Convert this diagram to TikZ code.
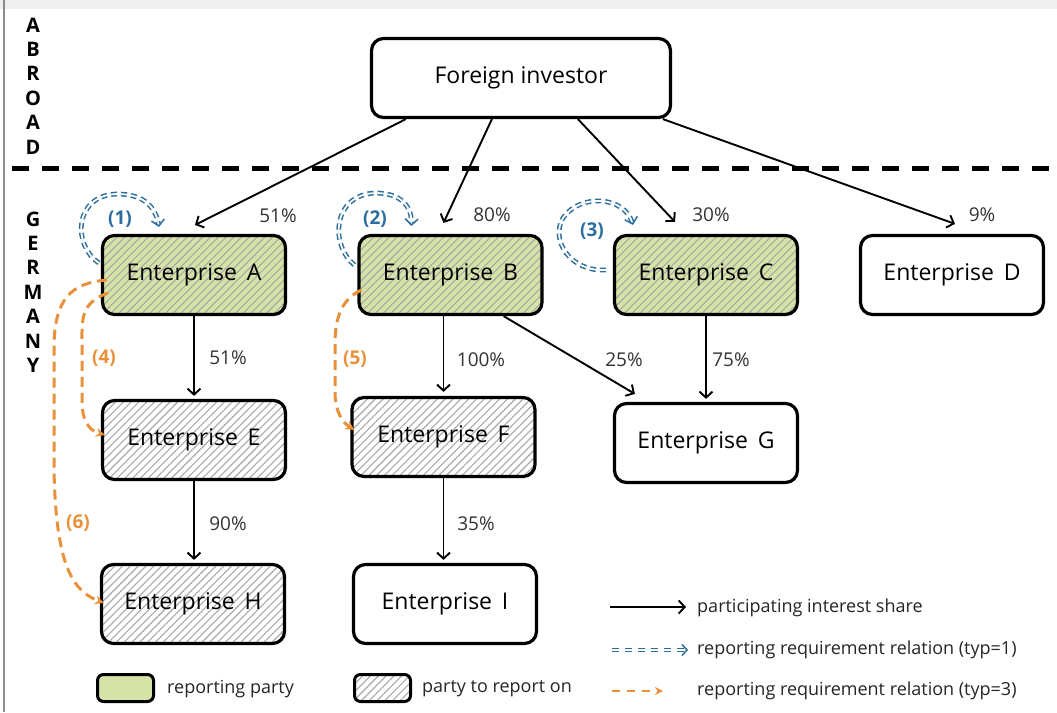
\documentclass[tikz,border=0pt]{standalone}
\usepackage{fontspec}
\setmainfont{Open Sans}
\usetikzlibrary{arrows.meta,patterns.meta,calc}
\definecolor{rgreen}{HTML}{D6E3A6}
\definecolor{rblue}{HTML}{2B6E9E}
\definecolor{rorange}{HTML}{E8913A}
\definecolor{hatchgray}{HTML}{A8A8A8}
\definecolor{bandgray}{HTML}{EFEFEF}
\definecolor{framegray}{HTML}{8C8C8C}
\begin{document}
\begin{tikzpicture}[x=1pt,y=1pt,
  ent/.style={draw=black, line width=3.2pt, rounded corners=12pt, minimum width=183pt, minimum height=79pt, inner sep=0pt, font=\fontsize{23}{26}\selectfont},
  hatchfill/.style={pattern={Lines[angle=45,distance=5.5pt,line width=1.1pt]}, pattern color=hatchgray},
  repbox/.style={ent, hatchfill, preaction={fill=rgreen}},
  hatbox/.style={ent, hatchfill, preaction={fill=white}},
  pct/.style={font=\fontsize{19}{21}\selectfont, text=black!80},
  share/.style={line width=1.9pt, -{Straight Barb[length=6pt,width=13pt,line width=1.9pt]}},
  reqone/.style={draw=rblue, double=white, line width=1.5pt, double distance=1.8pt, dash pattern=on 6pt off 4pt, -{Straight Barb[length=6pt,width=13pt]}},
  reqthree/.style={draw=rorange, line width=3pt, dash pattern=on 10pt off 6pt, -{Stealth[length=9pt,width=9pt]}},
  blab/.style={font=\bfseries\fontsize{19}{21}\selectfont, text=rblue},
  olab/.style={font=\bfseries\fontsize{19}{21}\selectfont, text=rorange},
  side/.style={font=\bfseries\fontsize{20}{24.4}\selectfont, align=center, inner sep=0pt},
  legtext/.style={anchor=west, font=\fontsize{18}{21}\selectfont, text=black!85, inner sep=0pt}
]
\useasboundingbox (0,0) rectangle (1057,-712);
% frame
\fill[white] (0,0) rectangle (1057,-712);
\fill[bandgray] (0,0) rectangle (1057,-9);
\draw[framegray, line width=2pt] (4,0) -- (4,-712);

% side labels
\node[side] (abroad) at (33,-86) {A\\B\\R\\O\\A\\D};
\node[side] (germany) at (33,-292) {G\\E\\R\\M\\A\\N\\Y};

% separator
\coordinate (sepl) at (12,-168);
\coordinate (sepr) at (1057,-168);
\draw[line width=5pt, dash pattern=on 17pt off 13pt] (sepl) -- (sepr);

% nodes
\node[ent, minimum width=299pt] (fi) at (521,-78) {Foreign investor};
\node[repbox] (a) at (194,-275) {Enterprise\, A};
\node[repbox] (b) at (450.5,-275) {Enterprise\, B};
\node[repbox] (c) at (706,-275) {Enterprise\, C};
\node[ent] (d) at (952,-275) {Enterprise\, D};
\node[hatbox] (e) at (194,-440) {Enterprise\, E};
\node[hatbox] (f) at (443.5,-437) {Enterprise\, F};
\node[ent] (g) at (706,-443) {Enterprise\, G};
\node[hatbox] (h) at (193,-604) {Enterprise\, H};
\node[ent] (i) at (445,-604) {Enterprise\, I};

% shares from foreign investor
\draw[share] ($(fi.south west)+(36,0)$) -- ($(a.north)+(1,10)$);
\draw[share] ($(fi.south west)+(122,0)$) -- ($(b.north)+(-7,11)$);
\draw[share] ($(fi.south west)+(208,0)$) -- ($(c.north)+(-31,12)$);
\draw[share] ($(fi.south west)+(293,0)$) -- ($(d.north)+(3,10)$);
\node[pct] (p1) at (278,-216) {51\%};
\node[pct] (p2) at (492,-215) {80\%};
\node[pct] (p3) at (711,-215) {30\%};
\node[pct] (p4) at (982,-215) {9\%};

% domestic shares
\draw[share] (a.south) -- ($(a.south |- e.north)+(0,3)$);
\draw[share] (f.north |- b.south) -- ($(f.north)+(0,4)$);
\draw[share] ($(b.south east)+(-40,0)$) -- ($(g.north west)+(22,8)$);
\draw[share] (c.south) -- ($(g.north)+(0,3)$);
\draw[share] (e.south) -- ($(e.south |- h.north)+(0,3)$);
\draw[share] (f.south) -- ($(f.south |- i.north)+(0,3)$);
\node[pct] (p5) at (228,-358) {51\%};
\node[pct] (p6) at (481,-360) {100\%};
\node[pct] (p7) at (624,-360) {25\%};
\node[pct] (p8) at (731,-360) {75\%};
\node[pct] (p9) at (228,-524) {90\%};
\node[pct] (p10) at (476,-524) {35\%};

% reporting requirement typ=1 (self loops)
\draw[reqone] ($(a.west)+(-3,12)$) .. controls (72,-245) and (74,-195) .. (117,-194)
   .. controls (145,-194) and (156,-208) .. ($(a.north west)+(57,8)$);
\draw[reqone] ($(b.west)+(-3,10)$) .. controls (330,-245) and (332,-195) .. (375,-193)
   .. controls (402,-193) and (412,-207) .. ($(b.north west)+(54,8)$);
\draw[reqone] ($(c.west)+(-7,5)$) .. controls (570,-272) and (550,-240) .. (563,-218)
   .. controls (580,-193) and (625,-196) .. ($(c.north west)+(20,9)$);
\node[blab] (l1) at (120,-219) {(1)};
\node[blab] (l2) at (375,-219) {(2)};
\node[blab] (l3) at (592,-231) {(3)};

% reporting requirement typ=3
\draw[reqthree] ($(a.west)+(6,-18)$) .. controls (80,-303) and (82,-320) .. (82,-345)
   -- (82,-400) .. controls (82,-420) and (88,-430) .. ($(e.west)+(4,5)$);
\draw[reqthree] ($(a.west)+(5,-5)$) .. controls (70,-283) and (55,-300) .. (54,-345)
   -- (54,-470) .. controls (56,-560) and (70,-590) .. ($(h.west)+(4,1)$);
\draw[reqthree] ($(b.west)+(4,-15)$) .. controls (340,-300) and (335,-320) .. (335,-345)
   -- (335,-395) .. controls (336,-412) and (342,-422) .. ($(f.west)+(4,7)$);
\node[olab] (l4) at (104,-358) {(4)};
\node[olab] (l5) at (355,-359) {(5)};
\node[olab] (l6) at (78,-523) {(6)};

% legend
\coordinate (lga) at (610,-607);
\coordinate (lgb) at (686,-607);
\coordinate (lgc) at (612,-650);
\coordinate (lgd) at (688,-650);
\coordinate (lge) at (612,-691);
\coordinate (lgf) at (663,-691);
\draw[share] (lga) -- (lgb);
\draw[reqone, dash pattern=on 7pt off 6pt, -{Straight Barb[length=5pt,width=11pt]}] (lgc) -- (lgd);
\draw[reqthree, line width=2.6pt, dash pattern=on 8pt off 7pt, -{Stealth[length=8pt,width=8pt]}] (lge) -- (lgf);
\node[legtext] (t1) at (697,-608) {participating interest share};
\node[legtext] (t2) at (697,-650) {reporting requirement relation (typ=1)};
\node[legtext] (t3) at (697,-691) {reporting requirement relation (typ=3)};
\node[draw, line width=3pt, rounded corners=6pt, minimum width=56pt, minimum height=27pt, fill=rgreen] (lgg) at (125.5,-688) {};
\node[draw, line width=3pt, rounded corners=6pt, minimum width=56pt, minimum height=27pt, hatchfill, preaction={fill=white}] (lgh) at (382.5,-688) {};
\node[legtext] (t4) at (167,-689) {reporting party};
\node[legtext] (t5) at (422,-689) {party to report on};
\end{tikzpicture}
\end{document}
